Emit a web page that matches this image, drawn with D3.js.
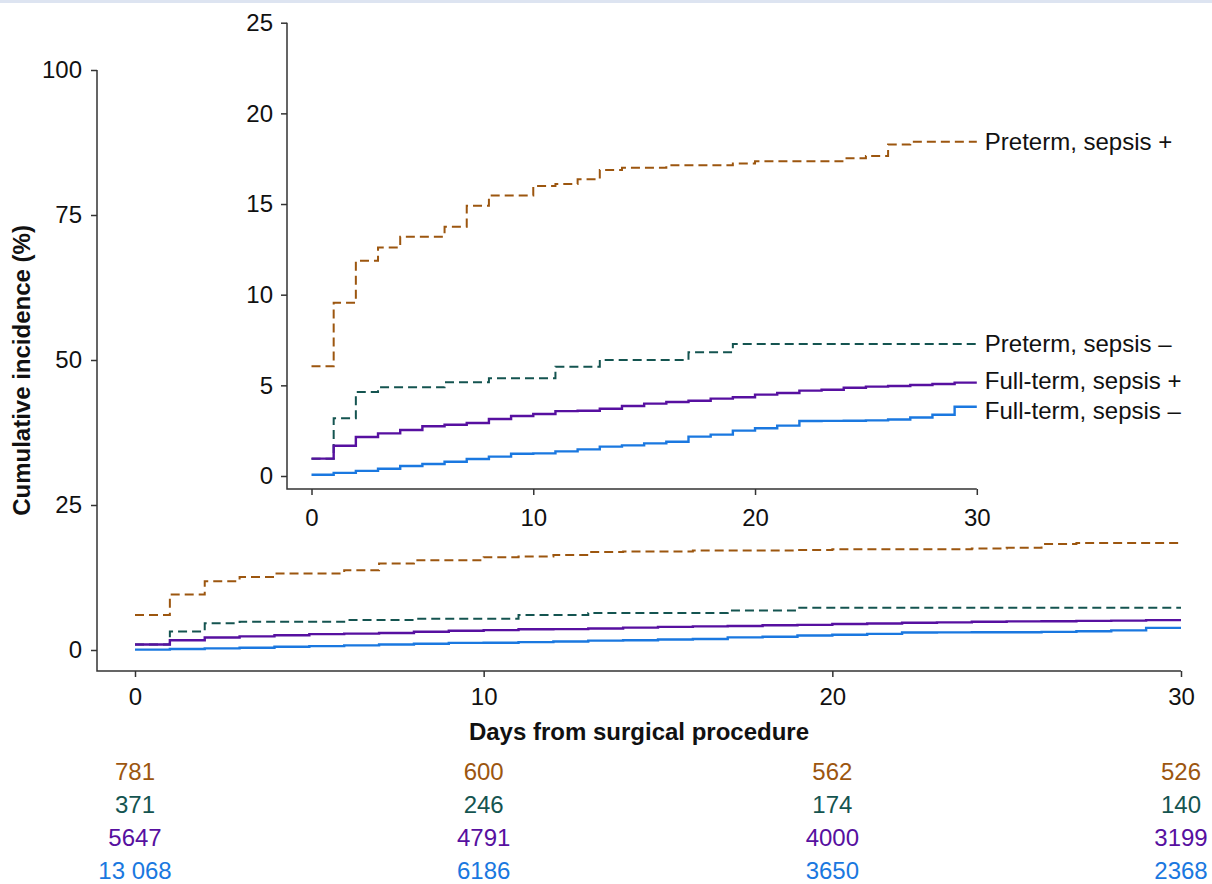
<!DOCTYPE html>
<html>
<head>
<meta charset="utf-8">
<script src="https://cdn.jsdelivr.net/npm/d3@7"></script>
<style>
  body { margin: 0; background: #fff; }
  text { font-family: Arial, "Liberation Sans", Helvetica, sans-serif; }
</style>
</head>
<body>
<svg id="chart"></svg>
<script>
// Days from surgery (step positions)
const days = [0, 1, 2, 3, 4, 5, 6, 7, 8, 9, 10, 11, 12, 13, 14, 15, 16, 17, 18, 19, 20, 21, 22, 23, 24, 25, 26, 27, 28, 29, 30]

// Cumulative incidence (%) per group
const pretermSepsisPos = [6.05, 9.55, 11.87, 12.6, 13.2, 13.2, 13.75, 14.9, 15.47, 15.47, 16.0, 16.1, 16.36, 16.88, 17.0, 17.0, 17.14, 17.14, 17.14, 17.23, 17.36, 17.36, 17.36, 17.36, 17.52, 17.65, 18.28, 18.44, 18.44, 18.44, 18.44]
const pretermSepsisNeg = [0.95, 3.18, 4.63, 4.89, 4.89, 4.89, 5.17, 5.17, 5.39, 5.39, 5.39, 6.03, 6.03, 6.4, 6.4, 6.4, 6.4, 6.82, 6.82, 7.28, 7.28, 7.28, 7.28, 7.28, 7.28, 7.28, 7.28, 7.28, 7.28, 7.28, 7.28]
const fulltermSepsisPos = [0.96, 1.67, 2.15, 2.35, 2.54, 2.74, 2.83, 2.92, 3.14, 3.31, 3.42, 3.58, 3.6, 3.71, 3.86, 3.99, 4.08, 4.15, 4.27, 4.34, 4.49, 4.58, 4.71, 4.76, 4.87, 4.93, 4.96, 5.02, 5.07, 5.15, 5.15]
const fulltermSepsisNeg = [0.07, 0.17, 0.28, 0.4, 0.55, 0.66, 0.79, 0.94, 1.07, 1.23, 1.25, 1.36, 1.47, 1.62, 1.69, 1.8, 1.89, 2.17, 2.28, 2.5, 2.63, 2.78, 3.03, 3.04, 3.05, 3.07, 3.12, 3.23, 3.38, 3.82, 3.82]

// Numbers at risk
const riskDays = [0, 10, 20, 30]
const riskPretermPos = ['781', '600', '562', '526']
const riskPretermNeg = ['371', '246', '174', '140']
const riskFulltermPos = ['5647', '4791', '4000', '3199']
const riskFulltermNeg = ['13 068', '6186', '3650', '2368']

const mainTicksY = [0, 25, 50, 75, 100]
const insetTicksY = [0, 5, 10, 15, 20, 25]
const ticksX = [0, 10, 20, 30]

const series = [
  { name: 'Preterm, sepsis +', values: pretermSepsisPos, risk: riskPretermPos, color: '#9c560f', dash: '9,5', labelShift: 0 },
  { name: 'Preterm, sepsis –', values: pretermSepsisNeg, risk: riskPretermNeg, color: '#145450', dash: '9,5', labelShift: 0 },
  { name: 'Full-term, sepsis +', values: fulltermSepsisPos, risk: riskFulltermPos, color: '#5710a0', dash: null, labelShift: -2 },
  { name: 'Full-term, sepsis –', values: fulltermSepsisNeg, risk: riskFulltermNeg, color: '#1a78e0', dash: null, labelShift: 4 }
]

const width = 1212
const height = 884
const fontSize = 24

const svg = d3.select('#chart')
  .attr('width', width)
  .attr('height', height)

// light header strip at the very top
svg.append('rect')
  .attr('x', 0).attr('y', 0)
  .attr('width', width).attr('height', 3)
  .attr('fill', '#dde4f1')

// Draws one panel: axes, step curves
function drawPanel (x, y, frame, yTicks, opts) {
  const g = svg.append('g')

  // curves
  const line = d3.line()
    .x((d, i) => x(days[i]))
    .y(d => y(d))
    .curve(d3.curveStepAfter)

  series.forEach(s => {
    g.append('path')
      .datum(s.values)
      .attr('d', line)
      .attr('fill', 'none')
      .attr('stroke', s.color)
      .attr('stroke-width', s.dash ? 2 : 2.4)
      .attr('stroke-dasharray', s.dash)
  })

  // y axis
  const yAxis = g.append('g')
    .attr('transform', `translate(${frame.left},0)`)
    .call(d3.axisLeft(y).tickValues(yTicks).tickSize(6).tickPadding(opts.yPad))
  yAxis.select('.domain').remove()

  // x axis
  const xAxis = g.append('g')
    .attr('transform', `translate(0,${frame.bottom})`)
    .call(d3.axisBottom(x).tickValues(ticksX).tickSize(6).tickPadding(opts.xPad))
  xAxis.select('.domain').remove()

  g.selectAll('.tick line').attr('stroke', '#333').attr('stroke-width', 1.5)
  g.selectAll('.tick text')
    .attr('font-size', fontSize)
    .attr('font-family', 'Arial, "Liberation Sans", sans-serif')
    .attr('fill', '#111')

  // axis lines meeting at the corner
  g.append('path')
    .attr('d', `M${frame.left},${y(yTicks[yTicks.length - 1])}V${frame.bottom}H${x(30)}`)
    .attr('fill', 'none')
    .attr('stroke', '#333')
    .attr('stroke-width', 1.5)

  return g
}

// Main panel
const xMain = d3.scaleLinear().domain([0, 30]).range([135, 1181])
const yMain = d3.scaleLinear().domain([0, 100]).range([650, 70])
drawPanel(xMain, yMain, { left: 97, bottom: 671 }, mainTicksY, { yPad: 9, xPad: 11 })

// Inset panel
const xInset = d3.scaleLinear().domain([0, 30]).range([311.5, 976.8])
const yInset = d3.scaleLinear().domain([0, 25]).range([476, 22.7])
const inset = drawPanel(xInset, yInset, { left: 287, bottom: 489 }, insetTicksY, { yPad: 8, xPad: 14 })

// Series labels at the end of the inset curves
series.forEach(s => {
  inset.append('text')
    .attr('x', xInset(30) + 8)
    .attr('y', yInset(s.values[s.values.length - 1]) + s.labelShift)
    .attr('dy', '0.35em')
    .attr('font-size', fontSize)
    .attr('fill', '#111')
    .text(s.name)
})

// Axis titles
svg.append('text')
  .attr('x', (97 + 1181) / 2)
  .attr('y', 740)
  .attr('text-anchor', 'middle')
  .attr('font-size', fontSize)
  .attr('font-weight', 'bold')
  .attr('fill', '#111')
  .text('Days from surgical procedure')

svg.append('text')
  .attr('transform', `translate(30,${(70 + 671) / 2}) rotate(-90)`)
  .attr('text-anchor', 'middle')
  .attr('font-size', fontSize)
  .attr('font-weight', 'bold')
  .attr('fill', '#111')
  .text('Cumulative incidence (%)')

// Numbers at risk table
const riskRowY = [780, 813, 846, 879]
series.forEach((s, r) => {
  svg.append('g')
    .selectAll('text')
    .data(s.risk)
    .join('text')
    .attr('x', (d, i) => xMain(riskDays[i]))
    .attr('y', riskRowY[r])
    .attr('text-anchor', 'middle')
    .attr('font-size', fontSize)
    .attr('fill', s.color)
    .text(d => d)
})
</script>
</body>
</html>
